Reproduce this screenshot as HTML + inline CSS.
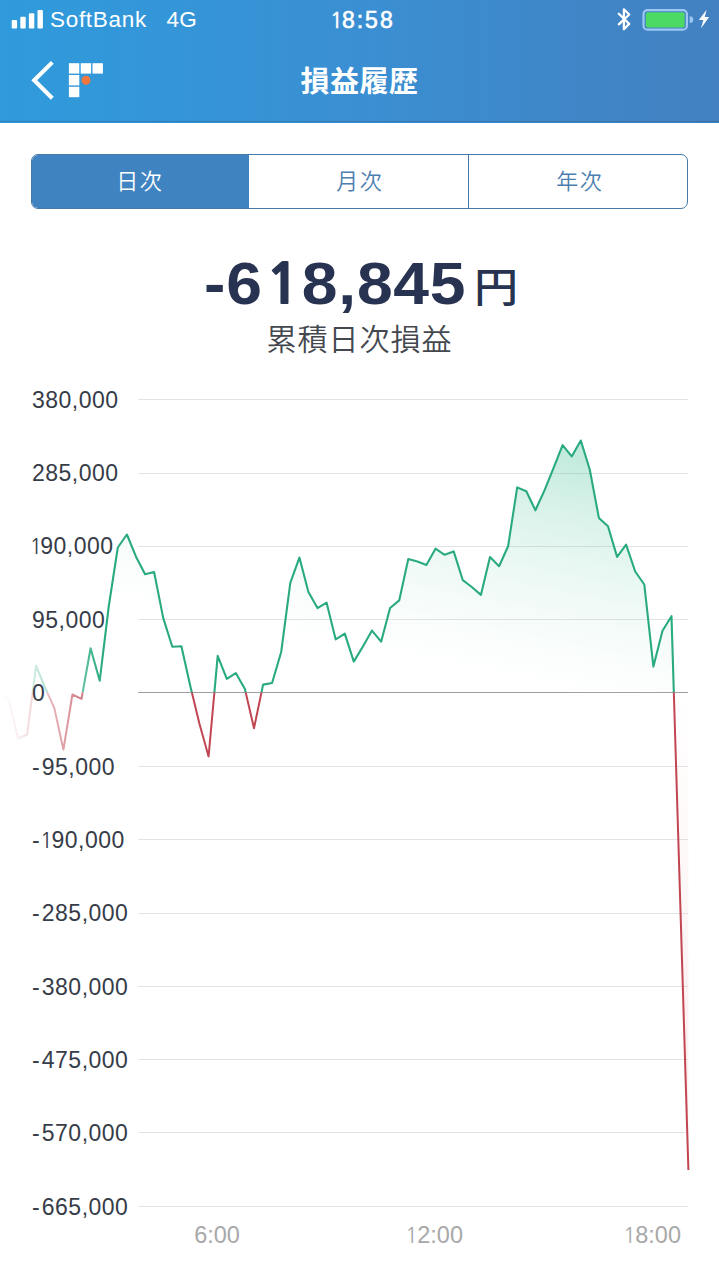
<!DOCTYPE html>
<html><head><meta charset="utf-8">
<style>
*{margin:0;padding:0;box-sizing:border-box}
html,body{width:719px;height:1278px;overflow:hidden;background:#fff}
body{position:relative;font-family:"Liberation Sans","Noto Sans CJK JP",sans-serif}
.hdr{position:absolute;left:0;top:0;width:719px;height:122.5px;background:linear-gradient(90deg,#2f9bdc 0%,#3a8fd2 50%,#4381c1 100%)}
.st{position:absolute;color:#fff;font-size:22.5px;top:6px;line-height:26px;letter-spacing:0.7px}
.title{position:absolute;left:0;width:719px;top:59px;text-align:center;color:#fff;font-family:"Noto Sans CJK JP",sans-serif;font-weight:700;font-size:29px;line-height:40px;letter-spacing:0.5px}
.seg{position:absolute;left:31px;top:153.5px;width:657px;height:55px;border:1.6px solid #4679a8;border-radius:7px;overflow:hidden}
.seg .on{position:absolute;left:0;top:0;width:216.5px;height:100%;background:#4083c1}
.seg .dv{position:absolute;top:0;width:1.5px;height:100%;background:#4679a8}
.sl{position:absolute;top:166.3px;width:120px;text-align:center;font-family:"Noto Sans CJK JP",sans-serif;font-size:22px;line-height:26px;color:#4c7eb0;font-weight:350;letter-spacing:1.3px;padding-left:1.3px}
.big{position:absolute;left:0;top:0;color:#273350;white-space:nowrap}
.num{position:absolute;left:204.1px;top:249.3px;line-height:70px;font-family:"Liberation Sans",sans-serif;font-weight:700;font-size:60px;letter-spacing:0.7px;transform:scaleX(1.07);transform-origin:0 0}
.yen{position:absolute;left:474px;top:260.3px;line-height:50px;font-family:"Noto Sans CJK JP",sans-serif;font-weight:500;font-size:40.5px;transform:scaleX(1.09);transform-origin:0 0}
.sub{position:absolute;left:0;width:719px;top:317px;text-align:center;color:#44484e;font-family:"Noto Sans CJK JP",sans-serif;font-weight:350;font-size:30px;line-height:40px;letter-spacing:1px}
.yl{position:absolute;left:32px;color:#363c48;font-size:23px;line-height:26px;letter-spacing:0.5px;white-space:nowrap}
.xl{position:absolute;top:1222px;color:#a8a8a8;font-size:23.5px;line-height:26px;letter-spacing:0px;width:100px;text-align:center}
svg{position:absolute;left:0;top:0}
.o{font-family:"NanumGothic",sans-serif;line-height:0;font-size:0.913em}
.num .o{margin-left:2.8px;font-weight:800}
.yl .o{margin-left:-2.5px;letter-spacing:-2px}
.yl .o.n{margin-left:-1.8px;letter-spacing:-1.2px}
.st .o{letter-spacing:-0.8px}
.xl .o{letter-spacing:-0.8px}
</style></head><body>
<div class="hdr"></div><div style="position:absolute;left:0;top:121.3px;width:719px;height:1.2px;background:rgba(40,70,100,0.28)"></div>
<svg width="719" height="123" viewBox="0 0 719 123">
<g fill="#fff">
<rect x="11.7" y="20" width="5.4" height="8.4" rx="1"/>
<rect x="20.3" y="16.7" width="5.4" height="11.7" rx="1"/>
<rect x="28.9" y="13.3" width="5.4" height="15.1" rx="1"/>
<rect x="37.5" y="10" width="5.4" height="18.4" rx="1"/>
</g>
<path d="M618.8,13.7 L629.2,23.9 L623.9,29.2 L623.9,9.3 L629.2,14.5 L618.8,24.3" fill="none" stroke="#fff" stroke-width="2.3" stroke-linejoin="round" stroke-linecap="round"/>
<rect x="643.5" y="10.1" width="43.4" height="19.6" rx="4" fill="none" stroke="#9cc7f2" stroke-width="2.2"/>
<rect x="645.8" y="12.3" width="38.8" height="15.2" rx="2" fill="#4cd964"/>
<path d="M689.7,16.2 L690.5,16.2 A3.4,3.4 0 0 1 690.5,22.9 L689.7,22.9 Z" fill="#9cc7f2"/>
<path d="M706.6,9.8 L698.9,19.9 L703.4,19.9 L700.9,28.4 L709.1,16.9 L704.7,16.9 Z" fill="#fff"/>
<path d="M52.3,62.4 L34.2,80.3 L52.3,98.2" fill="none" stroke="#fff" stroke-width="4.1"/>
<g fill="#fff">
<rect x="68.9" y="63.2" width="10.4" height="10.4"/>
<rect x="80.7" y="63.2" width="10.4" height="10.4"/>
<rect x="92.5" y="63.2" width="10.4" height="10.4"/>
<rect x="68.9" y="75.0" width="10.4" height="10.4"/>
<rect x="68.9" y="86.8" width="10.4" height="10.4"/>
</g>
<circle cx="86" cy="80.3" r="4.5" fill="#f2773f"/>
</svg>
<div class="st" style="left:50px;top:7px">SoftBank</div>
<div class="st" style="left:166.5px;top:7px;letter-spacing:0.2px">4G</div>
<div class="st" style="left:330px;top:7px;font-weight:400;font-size:23px;letter-spacing:2px;-webkit-text-stroke:0.6px #fff"><span class="o">1</span>8:58</div>
<div class="title">損益履歴</div>
<div class="seg"><div class="on"></div><div class="dv" style="left:435.5px"></div></div>
<div class="sl" style="left:79px;color:#fff">日次</div><div class="sl" style="left:299px">月次</div><div class="sl" style="left:519px">年次</div>
<div class="big"><span class="num">-6<span class="o">1</span>8,845</span><span class="yen">円</span></div>
<div class="sub">累積日次損益</div>
<svg width="719" height="1278" viewBox="0 0 719 1278">
<defs>
<linearGradient id="gf" x1="580" y1="440" x2="530" y2="685" gradientUnits="userSpaceOnUse">
<stop offset="0" stop-color="#2fb88c" stop-opacity="0.31"/>
<stop offset="0.064" stop-color="#2fb88c" stop-opacity="0.29"/>
<stop offset="0.252" stop-color="#2fb88c" stop-opacity="0.20"/>
<stop offset="0.428" stop-color="#2fb88c" stop-opacity="0.13"/>
<stop offset="0.628" stop-color="#2fb88c" stop-opacity="0.07"/>
<stop offset="0.816" stop-color="#2fb88c" stop-opacity="0.03"/>
<stop offset="1" stop-color="#2fb88c" stop-opacity="0"/>
</linearGradient>
<linearGradient id="rf" x1="0" y1="692.4" x2="0" y2="1170" gradientUnits="userSpaceOnUse">
<stop offset="0" stop-color="#e05560" stop-opacity="0.0"/>
<stop offset="1" stop-color="#e05560" stop-opacity="0.12"/>
</linearGradient>
<clipPath id="up"><rect x="0" y="0" width="719" height="692.4"/></clipPath>
<clipPath id="dn"><rect x="0" y="692.4" width="719" height="700"/></clipPath>
<linearGradient id="fade" x1="0" y1="0" x2="104" y2="0" gradientUnits="userSpaceOnUse">
<stop offset="0" stop-color="#fff" stop-opacity="1"/>
<stop offset="0.19" stop-color="#fff" stop-opacity="0.9"/>
<stop offset="0.35" stop-color="#fff" stop-opacity="0.75"/>
<stop offset="0.6" stop-color="#fff" stop-opacity="0.5"/>
<stop offset="0.79" stop-color="#fff" stop-opacity="0.3"/>
<stop offset="0.885" stop-color="#fff" stop-opacity="0.12"/>
<stop offset="1" stop-color="#fff" stop-opacity="0"/>
</linearGradient>
</defs>
<rect x="138" y="399" width="550" height="1" fill="#e3e3e3"/>
<rect x="138" y="473" width="550" height="1" fill="#e3e3e3"/>
<rect x="138" y="546" width="550" height="1" fill="#e3e3e3"/>
<rect x="138" y="619" width="550" height="1" fill="#e3e3e3"/>
<rect x="138" y="766" width="550" height="1" fill="#e3e3e3"/>
<rect x="138" y="839" width="550" height="1" fill="#e3e3e3"/>
<rect x="138" y="913" width="550" height="1" fill="#e3e3e3"/>
<rect x="138" y="986" width="550" height="1" fill="#e3e3e3"/>
<rect x="138" y="1059" width="550" height="1" fill="#e3e3e3"/>
<rect x="138" y="1132" width="550" height="1" fill="#e3e3e3"/>
<rect x="138" y="1206" width="550" height="1" fill="#e3e3e3"/>

<path d="M-0.2,692.4 L-0.2,694.0 L8.9,700.0 L18.0,738.5 L27.1,734.5 L36.1,665.8 L45.2,688.0 L54.3,708.0 L63.4,749.6 L72.4,694.5 L81.5,698.8 L90.6,648.2 L99.7,680.8 L108.8,606.0 L117.8,547.5 L126.9,534.5 L136.0,556.7 L145.1,574.3 L154.1,572.0 L163.2,617.9 L172.3,646.7 L181.4,646.2 L190.4,686.4 L199.5,723.9 L208.6,756.4 L217.7,655.8 L226.8,678.8 L235.8,673.1 L244.9,689.0 L254.0,728.2 L263.1,684.6 L272.1,683.0 L281.2,652.0 L290.3,582.8 L299.4,557.6 L308.4,592.0 L317.5,608.1 L326.6,602.7 L335.7,639.4 L344.8,633.6 L353.8,661.6 L362.9,646.5 L372.0,630.6 L381.1,641.7 L390.1,608.0 L399.2,600.4 L408.3,559.1 L417.4,561.4 L426.4,564.9 L435.5,548.7 L444.6,554.8 L453.7,551.4 L462.8,580.2 L471.8,587.0 L480.9,594.9 L490.0,557.0 L499.1,566.2 L508.1,546.3 L517.2,487.4 L526.3,491.2 L535.4,510.3 L544.5,490.4 L553.5,468.2 L562.6,445.2 L571.7,456.4 L580.8,440.5 L589.8,469.7 L598.9,517.9 L608.0,526.3 L617.1,556.9 L626.1,544.7 L635.2,571.5 L644.3,584.5 L653.4,666.6 L662.5,630.8 L671.5,616.2 L688.4,1170.0 L688.4,692.4 Z" fill="url(#gf)" clip-path="url(#up)"/>
<path d="M-0.2,692.4 L-0.2,694.0 L8.9,700.0 L18.0,738.5 L27.1,734.5 L36.1,665.8 L45.2,688.0 L54.3,708.0 L63.4,749.6 L72.4,694.5 L81.5,698.8 L90.6,648.2 L99.7,680.8 L108.8,606.0 L117.8,547.5 L126.9,534.5 L136.0,556.7 L145.1,574.3 L154.1,572.0 L163.2,617.9 L172.3,646.7 L181.4,646.2 L190.4,686.4 L199.5,723.9 L208.6,756.4 L217.7,655.8 L226.8,678.8 L235.8,673.1 L244.9,689.0 L254.0,728.2 L263.1,684.6 L272.1,683.0 L281.2,652.0 L290.3,582.8 L299.4,557.6 L308.4,592.0 L317.5,608.1 L326.6,602.7 L335.7,639.4 L344.8,633.6 L353.8,661.6 L362.9,646.5 L372.0,630.6 L381.1,641.7 L390.1,608.0 L399.2,600.4 L408.3,559.1 L417.4,561.4 L426.4,564.9 L435.5,548.7 L444.6,554.8 L453.7,551.4 L462.8,580.2 L471.8,587.0 L480.9,594.9 L490.0,557.0 L499.1,566.2 L508.1,546.3 L517.2,487.4 L526.3,491.2 L535.4,510.3 L544.5,490.4 L553.5,468.2 L562.6,445.2 L571.7,456.4 L580.8,440.5 L589.8,469.7 L598.9,517.9 L608.0,526.3 L617.1,556.9 L626.1,544.7 L635.2,571.5 L644.3,584.5 L653.4,666.6 L662.5,630.8 L671.5,616.2 L688.4,1170.0 L688.4,692.4 Z" fill="url(#rf)" clip-path="url(#dn)"/>
<rect x="138" y="692" width="550" height="1" fill="#a0a0a0"/>
<path d="M-0.2,694.0 L8.9,700.0 L18.0,738.5 L27.1,734.5 L36.1,665.8 L45.2,688.0 L54.3,708.0 L63.4,749.6 L72.4,694.5 L81.5,698.8 L90.6,648.2 L99.7,680.8 L108.8,606.0 L117.8,547.5 L126.9,534.5 L136.0,556.7 L145.1,574.3 L154.1,572.0 L163.2,617.9 L172.3,646.7 L181.4,646.2 L190.4,686.4 L199.5,723.9 L208.6,756.4 L217.7,655.8 L226.8,678.8 L235.8,673.1 L244.9,689.0 L254.0,728.2 L263.1,684.6 L272.1,683.0 L281.2,652.0 L290.3,582.8 L299.4,557.6 L308.4,592.0 L317.5,608.1 L326.6,602.7 L335.7,639.4 L344.8,633.6 L353.8,661.6 L362.9,646.5 L372.0,630.6 L381.1,641.7 L390.1,608.0 L399.2,600.4 L408.3,559.1 L417.4,561.4 L426.4,564.9 L435.5,548.7 L444.6,554.8 L453.7,551.4 L462.8,580.2 L471.8,587.0 L480.9,594.9 L490.0,557.0 L499.1,566.2 L508.1,546.3 L517.2,487.4 L526.3,491.2 L535.4,510.3 L544.5,490.4 L553.5,468.2 L562.6,445.2 L571.7,456.4 L580.8,440.5 L589.8,469.7 L598.9,517.9 L608.0,526.3 L617.1,556.9 L626.1,544.7 L635.2,571.5 L644.3,584.5 L653.4,666.6 L662.5,630.8 L671.5,616.2 L688.4,1170.0" fill="none" stroke="#2aaa81" stroke-width="2.1" stroke-linejoin="round" clip-path="url(#up)"/>
<path d="M-0.2,694.0 L8.9,700.0 L18.0,738.5 L27.1,734.5 L36.1,665.8 L45.2,688.0 L54.3,708.0 L63.4,749.6 L72.4,694.5 L81.5,698.8 L90.6,648.2 L99.7,680.8 L108.8,606.0 L117.8,547.5 L126.9,534.5 L136.0,556.7 L145.1,574.3 L154.1,572.0 L163.2,617.9 L172.3,646.7 L181.4,646.2 L190.4,686.4 L199.5,723.9 L208.6,756.4 L217.7,655.8 L226.8,678.8 L235.8,673.1 L244.9,689.0 L254.0,728.2 L263.1,684.6 L272.1,683.0 L281.2,652.0 L290.3,582.8 L299.4,557.6 L308.4,592.0 L317.5,608.1 L326.6,602.7 L335.7,639.4 L344.8,633.6 L353.8,661.6 L362.9,646.5 L372.0,630.6 L381.1,641.7 L390.1,608.0 L399.2,600.4 L408.3,559.1 L417.4,561.4 L426.4,564.9 L435.5,548.7 L444.6,554.8 L453.7,551.4 L462.8,580.2 L471.8,587.0 L480.9,594.9 L490.0,557.0 L499.1,566.2 L508.1,546.3 L517.2,487.4 L526.3,491.2 L535.4,510.3 L544.5,490.4 L553.5,468.2 L562.6,445.2 L571.7,456.4 L580.8,440.5 L589.8,469.7 L598.9,517.9 L608.0,526.3 L617.1,556.9 L626.1,544.7 L635.2,571.5 L644.3,584.5 L653.4,666.6 L662.5,630.8 L671.5,616.2 L688.4,1170.0" fill="none" stroke="#c14652" stroke-width="2.0" stroke-linejoin="round" clip-path="url(#dn)"/>
<rect x="0" y="380" width="104" height="880" fill="url(#fade)"/>
</svg>
<div class="yl" style="top:386.7px">380,000</div>
<div class="yl" style="top:460.1px">285,000</div>
<div class="yl" style="top:533.4px"><span class="o">1</span>90,000</div>
<div class="yl" style="top:606.8px">95,000</div>
<div class="yl" style="top:680.1px">0</div>
<div class="yl" style="top:753.5px"><span style="letter-spacing:2.1px">-</span>95,000</div>
<div class="yl" style="top:826.9px"><span style="letter-spacing:2.1px">-</span><span class="o n">1</span>90,000</div>
<div class="yl" style="top:900.2px"><span style="letter-spacing:2.1px">-</span>285,000</div>
<div class="yl" style="top:973.6px"><span style="letter-spacing:2.1px">-</span>380,000</div>
<div class="yl" style="top:1046.9px"><span style="letter-spacing:2.1px">-</span>475,000</div>
<div class="yl" style="top:1120.3px"><span style="letter-spacing:2.1px">-</span>570,000</div>
<div class="yl" style="top:1193.7px"><span style="letter-spacing:2.1px">-</span>665,000</div>

<div class="xl" style="left:167px">6:00</div>
<div class="xl" style="left:384px"><span class="o">1</span>2:00</div>
<div class="xl" style="left:602px"><span class="o">1</span>8:00</div>
</body></html>
